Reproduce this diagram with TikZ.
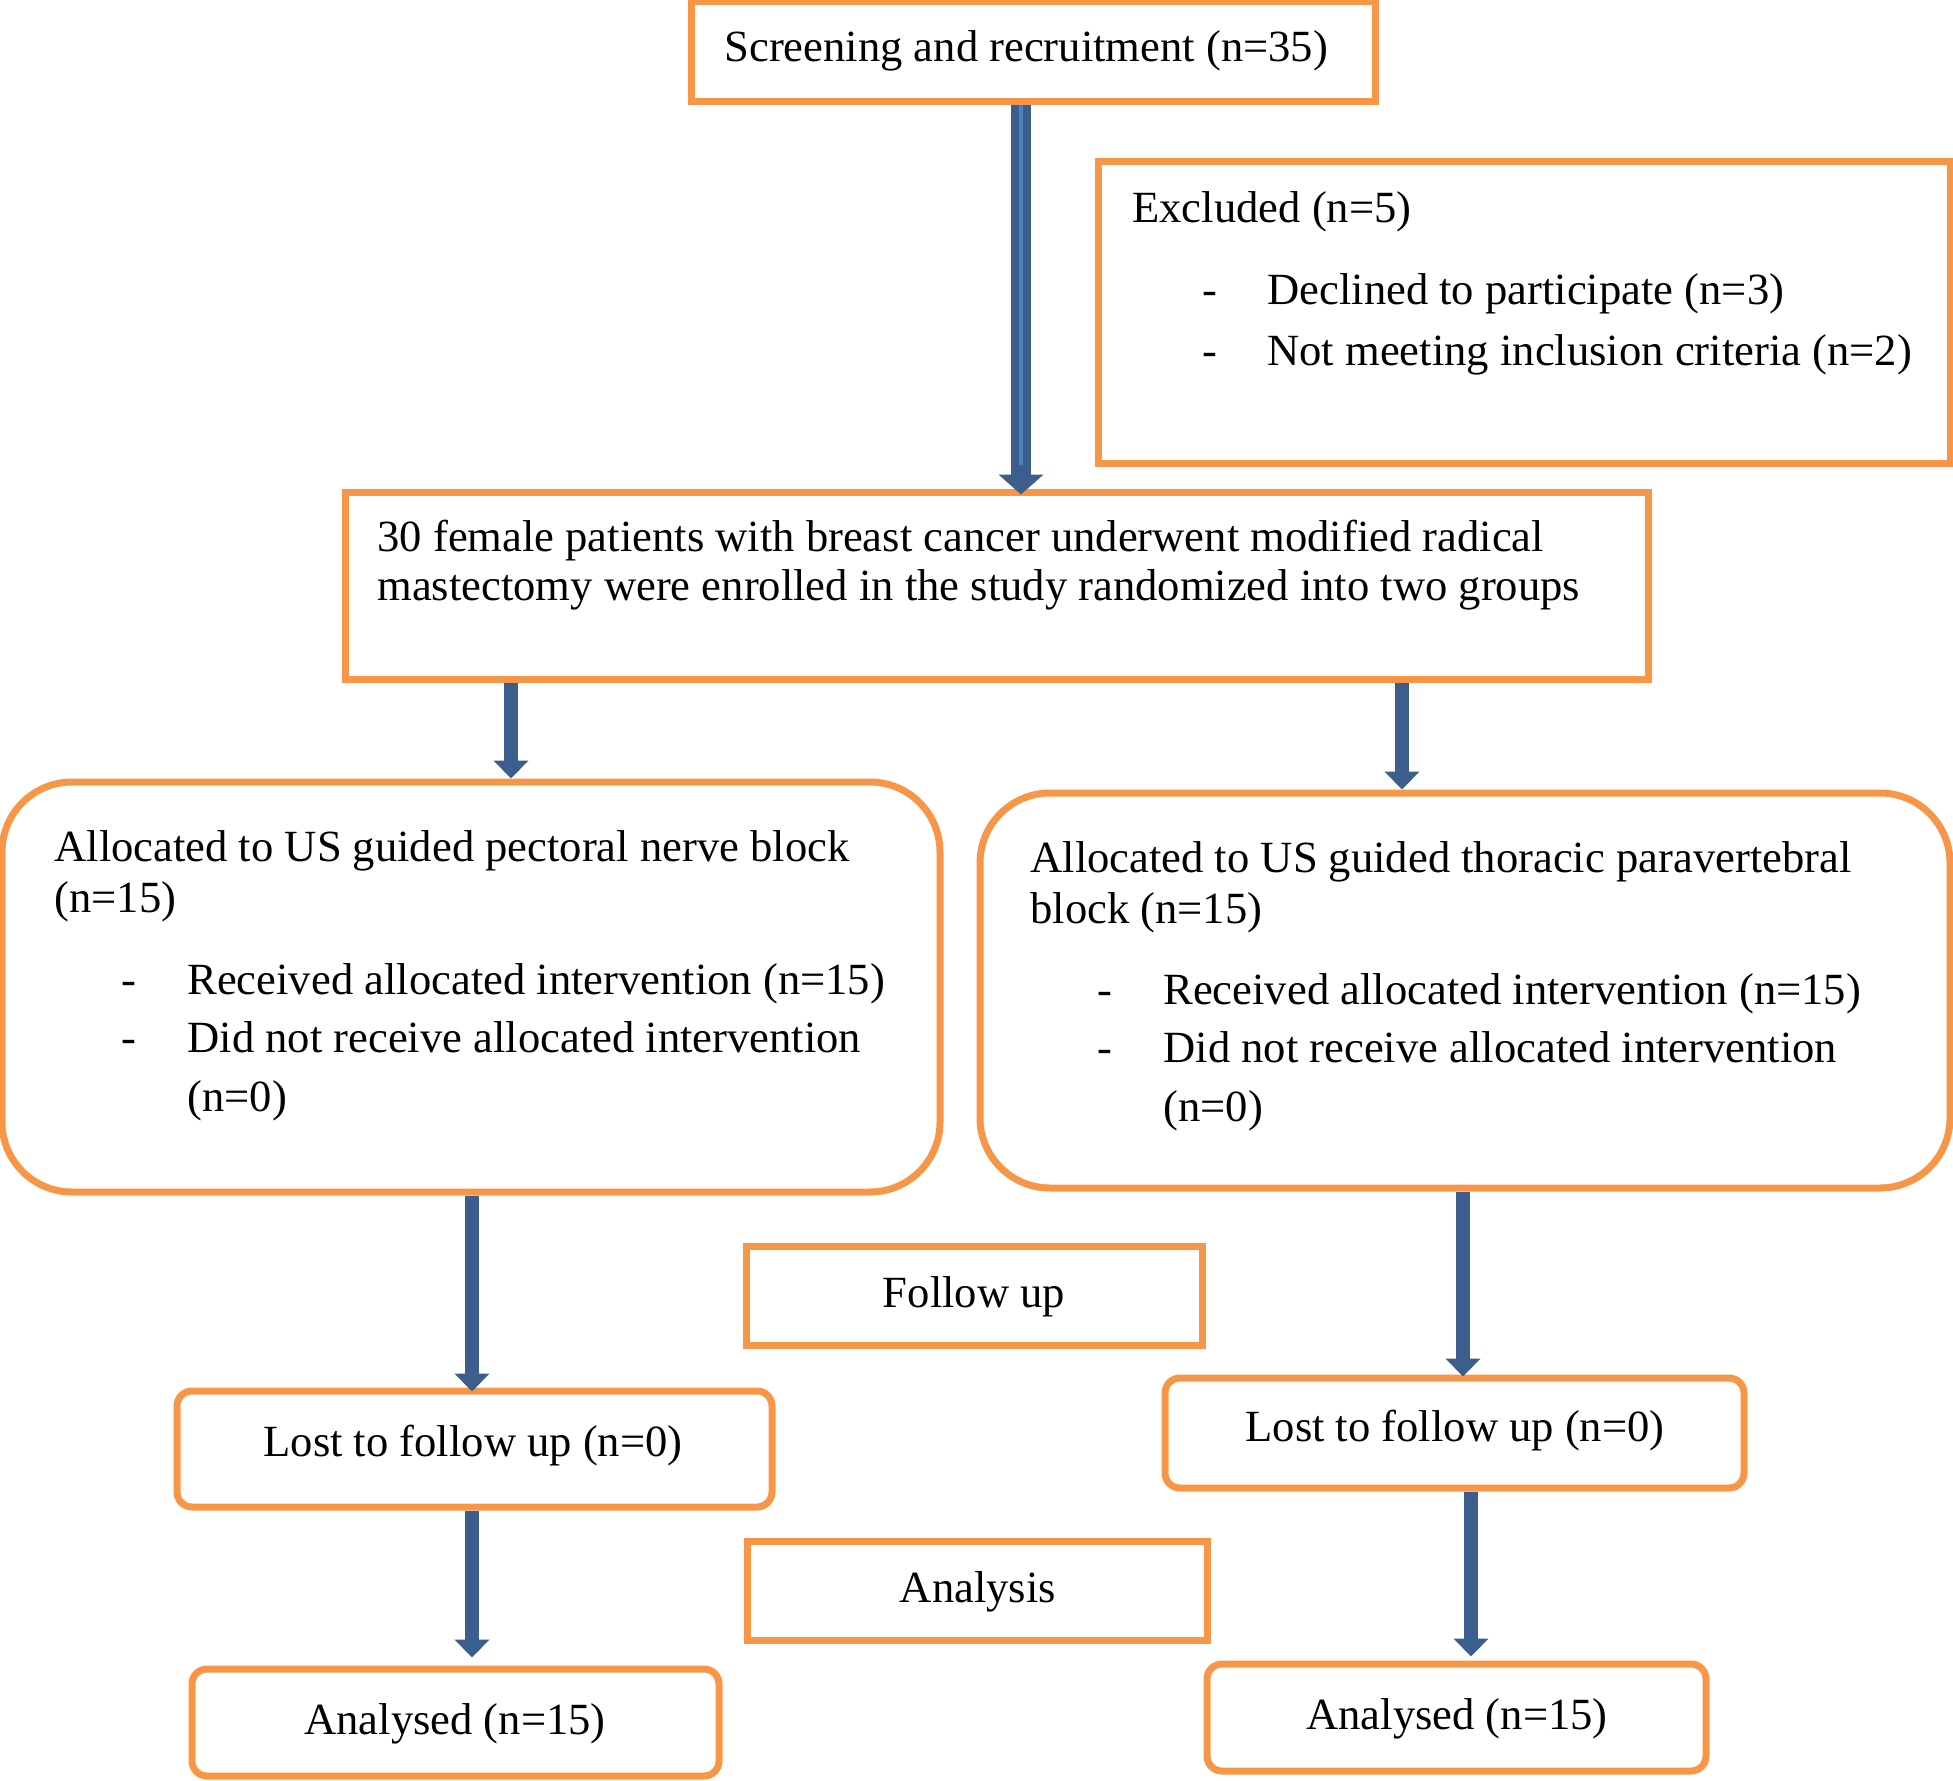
\documentclass[tikz,border=0pt]{standalone}
\usepackage{fontspec}
\setmainfont{Liberation Serif}
\usetikzlibrary{arrows.meta}
\definecolor{obox}{HTML}{F79646}
\definecolor{barr}{HTML}{3B5E8C}
\definecolor{barrl}{HTML}{4F81BD}
\tikzset{
  box/.style={draw=obox, line width=3.5pt, fill=none, inner sep=0pt},
  sqbox/.style={box},
  rbox/.style={box, rounded corners=7.5pt},
  bigrbox/.style={box, rounded corners=35pt},
  txt/.style={inner sep=0pt, yshift=-2pt, font=\fontsize{22.3pt}{26pt}\selectfont},
  arr/.style={draw=barr, line width=7pt, -{Triangle[width=17pt,length=9pt]}},
  bigarr/.style={draw=barr, line width=10pt, -{Triangle[width=22pt,length=10pt]}},
}
\begin{document}
\begin{tikzpicture}[x=0.5pt,y=-0.5pt]
\useasboundingbox (0,0) rectangle (1953,1781);
% boxes
\node[sqbox, minimum width=342pt, minimum height=50pt] (scr) at (1033,52) {};
\node[sqbox, minimum width=426pt, minimum height=150.5pt] (exc) at (1524,312.5) {};
\node[sqbox, minimum width=651.5pt, minimum height=93.5pt] (enr) at (996.5,585.5) {};
\node[bigrbox, minimum width=469pt, minimum height=205pt] (lft) at (471,987) {};
\node[bigrbox, minimum width=485pt, minimum height=197.5pt] (rgt) at (1465,990.5) {};
\node[sqbox, minimum width=228pt, minimum height=49.5pt] (fol) at (974,1295.5) {};
\node[sqbox, minimum width=230pt, minimum height=49.5pt] (ana) at (977,1590.5) {};
\node[rbox, minimum width=297.5pt, minimum height=58pt] (lsl) at (474.5,1449) {};
\node[rbox, minimum width=289.5pt, minimum height=55pt] (lsr) at (1454.5,1433) {};
\node[rbox, minimum width=263.5pt, minimum height=53.5pt] (anl) at (455.5,1722.5) {};
\node[rbox, minimum width=249.5pt, minimum height=53.5pt] (anr) at (1456.5,1717.5) {};
% texts
\node[txt, anchor=base west] (tscr) at (724,58) {Screening and recruitment (n=35)};
\node[txt, anchor=base west] (texc) at (1132,219) {Excluded (n=5)};
\node[txt, anchor=base west] (dexc1) at (1202,301) {-};
\node[txt, anchor=base west] (texc1) at (1267,301) {Declined to participate (n=3)};
\node[txt, anchor=base west] (dexc2) at (1202,361) {-};
\node[txt, anchor=base west] (texc2) at (1267,361) {Not meeting inclusion criteria (n=2)};
\node[txt, anchor=base west] (tenr1) at (377,547) {30 female patients with breast cancer underwent modified radical};
\node[txt, anchor=base west] (tenr2) at (377,596) {mastectomy were enrolled in the study randomized into two groups};
\node[txt, anchor=base west] (tl1) at (54,857) {Allocated to US guided pectoral nerve block};
\node[txt, anchor=base west] (tl2) at (54,908) {(n=15)};
\node[txt, anchor=base west] (dl1) at (121,990) {-};
\node[txt, anchor=base west] (tl3) at (187,990) {Received allocated intervention (n=15)};
\node[txt, anchor=base west] (dl2) at (121,1048) {-};
\node[txt, anchor=base west] (tl4) at (187,1048) {Did not receive allocated intervention};
\node[txt, anchor=base west] (tl5) at (187,1107) {(n=0)};
\node[txt, anchor=base west] (tr1) at (1030,868) {Allocated to US guided thoracic paravertebral};
\node[txt, anchor=base west] (tr2) at (1030,919) {block (n=15)};
\node[txt, anchor=base west] (dr1) at (1097,1000) {-};
\node[txt, anchor=base west] (tr3) at (1163,1000) {Received allocated intervention (n=15)};
\node[txt, anchor=base west] (dr2) at (1097,1058) {-};
\node[txt, anchor=base west] (tr4) at (1163,1058) {Did not receive allocated intervention};
\node[txt, anchor=base west] (tr5) at (1163,1117) {(n=0)};
\node[txt, anchor=base] (tfol) at (974,1303) {Follow up};
\node[txt, anchor=base] (tana) at (978,1598) {Analysis};
\node[txt, anchor=base] (tlsl) at (473,1452) {Lost to follow up (n=0)};
\node[txt, anchor=base] (tlsr) at (1455,1437) {Lost to follow up (n=0)};
\node[txt, anchor=base] (tanl) at (455,1730) {Analysed (n=15)};
\node[txt, anchor=base] (tanr) at (1457,1725) {Analysed (n=15)};
% arrow x positions
\coordinate (xa1) at (1021,0);
\coordinate (xa2) at (511,0);
\coordinate (xa3) at (1402,0);
\coordinate (xa4) at (472,0);
\coordinate (xa5) at (1463,0);
\coordinate (xa6) at (472,0);
\coordinate (xa7) at (1471,0);
% arrows
\draw[bigarr] (scr.south -| xa1) -- ([yshift=-3pt]enr.north -| xa1);
\draw[draw=barrl, line width=2pt] (scr.south -| xa1) -- ([yshift=12pt]enr.north -| xa1);
\draw[arr] (enr.south -| xa2) -- (lft.north -| xa2);
\draw[arr] (enr.south -| xa3) -- (rgt.north -| xa3);
\draw[arr] (lft.south -| xa4) -- ([yshift=-2pt]lsl.north -| xa4);
\draw[arr] (rgt.south -| xa5) -- ([yshift=-1pt]lsr.north -| xa5);
\draw[arr] (lsl.south -| xa6) -- ([yshift=4pt]anl.north -| xa6);
\draw[arr] (lsr.south -| xa7) -- ([yshift=2pt]anr.north -| xa7);
\end{tikzpicture}
\end{document}
